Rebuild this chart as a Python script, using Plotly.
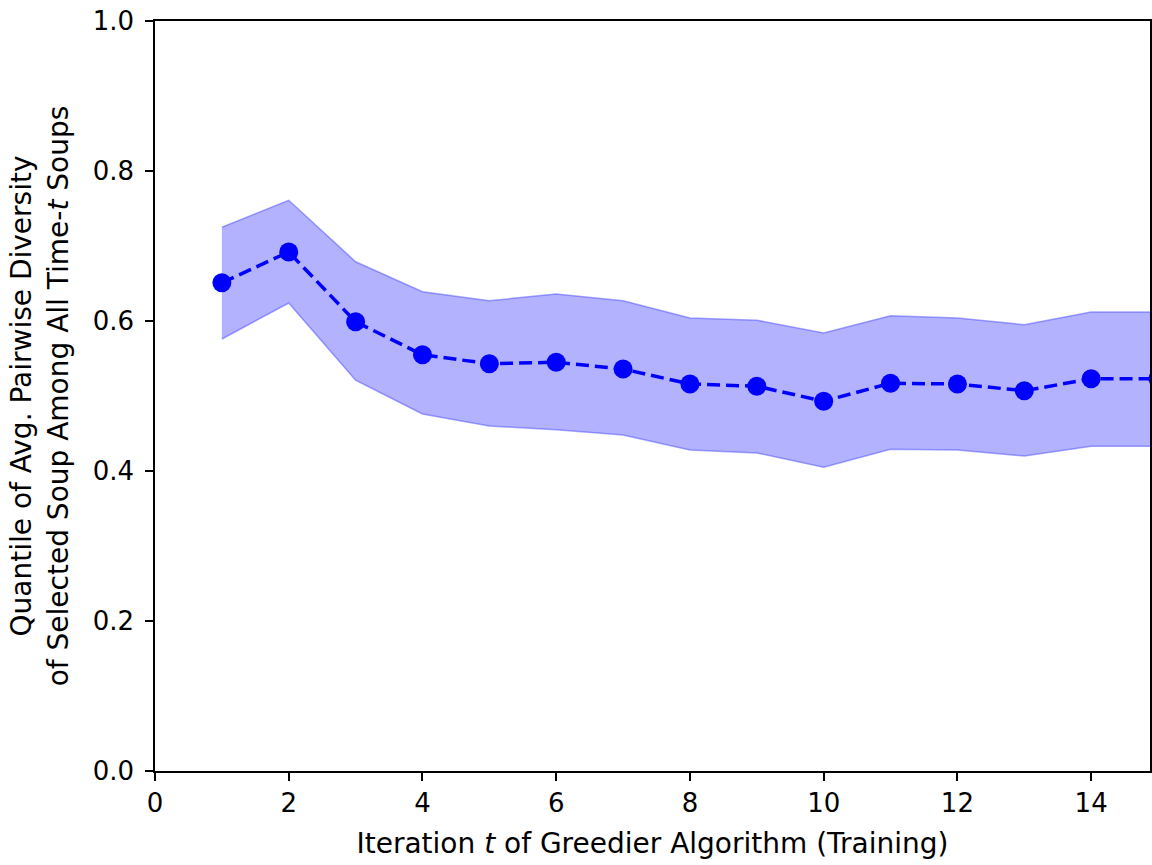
import plotly.graph_objects as go

# Iteration index t of the greedier algorithm
iterations = [1, 2, 3, 4, 5, 6, 7, 8, 9, 10, 11, 12, 13, 14, 15]
# Mean quantile of avg. pairwise diversity of the selected soup
mean_quantile = [0.651, 0.692, 0.599, 0.555, 0.543, 0.545, 0.536, 0.516, 0.513,
                 0.493, 0.517, 0.516, 0.507, 0.523, 0.523]
# Upper / lower edges of the shaded band
upper_band = [0.725, 0.761, 0.679, 0.639, 0.627, 0.636, 0.627, 0.604, 0.601,
              0.584, 0.607, 0.604, 0.595, 0.612, 0.612]
lower_band = [0.576, 0.624, 0.521, 0.476, 0.460, 0.455, 0.448, 0.428, 0.424,
              0.405, 0.429, 0.428, 0.420, 0.433, 0.433]

x_ticks = [0, 2, 4, 6, 8, 10, 12, 14]
y_ticks = [0.0, 0.2, 0.4, 0.6, 0.8, 1.0]

BLUE = "rgb(0,0,255)"
BAND_FILL = "rgba(0,0,255,0.3)"
BAND_EDGE = "rgba(60,60,255,0.45)"
FONT = "DejaVu Sans"
TICK_FS = 26
TITLE_FS = 28

fig = go.Figure()

# shaded band: lower edge first, then fill up to the upper edge
fig.add_trace(go.Scatter(
    x=iterations, y=lower_band, mode="lines",
    line=dict(color=BAND_EDGE, width=1.5),
    hoverinfo="skip", showlegend=False,
))
fig.add_trace(go.Scatter(
    x=iterations, y=upper_band, mode="lines",
    line=dict(color=BAND_EDGE, width=1.5),
    fill="tonexty", fillcolor=BAND_FILL,
    hoverinfo="skip", showlegend=False,
))

# mean curve
fig.add_trace(go.Scatter(
    x=iterations, y=mean_quantile, mode="lines+markers",
    line=dict(color=BLUE, width=3.5, dash="13px,6px"),
    marker=dict(color=BLUE, size=19),
    showlegend=False,
))

axis_common = dict(
    showgrid=False, zeroline=False,
    showline=True, linecolor="black", linewidth=1.5, mirror=True,
    ticks="outside", ticklen=8, tickwidth=1.5, tickcolor="black",
    tickfont=dict(family=FONT, size=TICK_FS, color="black"),
)

fig.update_layout(
    width=1152, height=865,
    margin=dict(l=155, r=0, t=21, b=94),
    plot_bgcolor="white", paper_bgcolor="white",
    font=dict(family=FONT, color="black"),
    xaxis=dict(
        **axis_common,
        range=[0, 14.88],
        tickvals=x_ticks,
        ticktext=[str(v) for v in x_ticks],
        title=dict(
            text="Iteration <i>t</i> of Greedier Algorithm (Training)",
            font=dict(family=FONT, size=TITLE_FS, color="black"),
            standoff=16,
        ),
    ),
    yaxis=dict(
        **axis_common,
        range=[0, 1.0],
        tickvals=y_ticks,
        ticktext=[f"{v:.1f}" for v in y_ticks],
        ticklabelstandoff=6,
        title=dict(
            text="Quantile of Avg. Pairwise Diversity<br>of Selected Soup Among All Time-<i>t</i> Soups",
            font=dict(family=FONT, size=TITLE_FS, color="black"),
            standoff=16,
        ),
    ),
)

fig.write_html("out.html")
